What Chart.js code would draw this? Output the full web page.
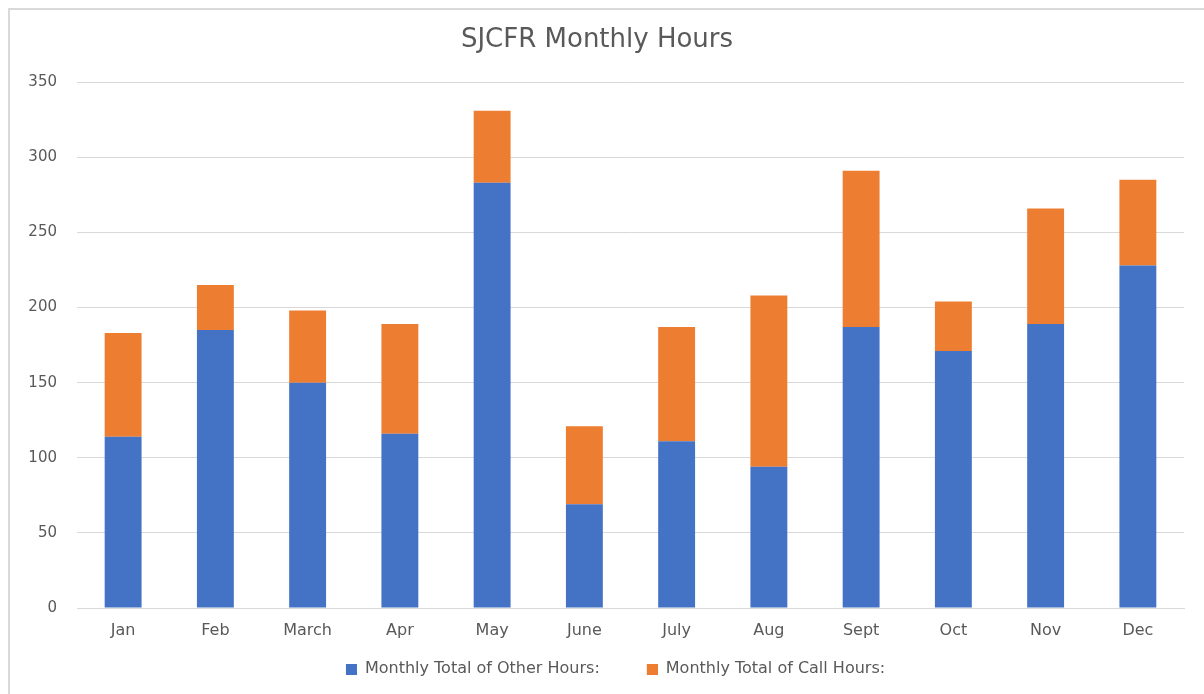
<!DOCTYPE html>
<html>
<head>
<meta charset="utf-8">
<script src="https://cdn.jsdelivr.net/npm/chart.js@4"></script>
<style>
  body { margin: 0; background: #fff; }
  #box {
    position: absolute; left: 8px; top: 8px;
    width: 1196px; height: 686px;
    border-left: 2px solid #d9d9d9; border-top: 2px solid #d9d9d9;
  }
</style>
</head>
<body>
<div id="box"><canvas id="hoursChart"></canvas></div>
<script>
const months = ["Jan", "Feb", "March", "Apr", "May", "June", "July", "Aug", "Sept", "Oct", "Nov", "Dec"];
const otherHours = [114, 185, 150, 116, 283, 69, 111, 94, 187, 171, 189, 228];
const callHours = [69, 30, 48, 73, 48, 52, 76, 114, 104, 33, 77, 57];
const yTicks = [0, 50, 100, 150, 200, 250, 300, 350];
const seriesNames = ["Monthly Total of Other Hours:", "Monthly Total of Call Hours:"];
const seriesColors = ["#4472C4", "#ED7D31"];

const textColor = "#595959";
const fontFamily = "'DejaVu Sans', sans-serif";

// legend square sits at the right end of a wider blank mark, so items get a gap
function legendMark(color) {
  const c = document.createElement("canvas");
  c.width = 48;
  c.height = 11;
  const ctx = c.getContext("2d");
  ctx.fillStyle = color;
  ctx.fillRect(37, 0, 11, 11);
  return c;
}
const marks = seriesColors.map(legendMark);

//data
const data = {
  labels: months,
  datasets: [
    { label: seriesNames[0], data: otherHours, backgroundColor: seriesColors[0] },
    { label: seriesNames[1], data: callHours, backgroundColor: seriesColors[1] },
  ],
};

//config
const config = {
  type: "bar",
  data: data,
  options: {
    responsive: true,
    maintainAspectRatio: false,
    animation: false,
    datasets: {
      bar: { barPercentage: 1, categoryPercentage: 0.4 },
    },
    layout: {
      padding: { left: 0, right: 22, top: 0, bottom: 9 },
    },
    plugins: {
      title: {
        display: true,
        text: "SJCFR Monthly Hours",
        color: textColor,
        font: { family: fontFamily, size: 26, weight: "normal" },
        padding: { top: 15, bottom: 26 },
      },
      legend: {
        position: "bottom",
        labels: {
          color: textColor,
          font: { family: fontFamily, size: 16 },
          usePointStyle: true,
          pointStyleWidth: 48,
          boxHeight: 11,
          padding: 10,
          generateLabels: (chart) =>
            chart.data.datasets.map((ds, i) => ({
              text: ds.label,
              fillStyle: ds.backgroundColor,
              strokeStyle: ds.backgroundColor,
              lineWidth: 0,
              pointStyle: marks[i],
              fontColor: textColor,
              hidden: false,
              datasetIndex: i,
            })),
        },
      },
      tooltip: { enabled: false },
    },
    scales: {
      x: {
        stacked: true,
        grid: { display: false },
        border: { color: "#d9d9d9", width: 1 },
        ticks: {
          color: textColor,
          font: { family: fontFamily, size: 16 },
          padding: 5,
        },
        afterFit: (axis) => {
          axis.height = 43;
        },
      },
      y: {
        stacked: true,
        min: 0,
        max: 350,
        afterBuildTicks: (axis) => {
          axis.ticks = yTicks.map((v) => ({ value: v }));
        },
        afterFit: (axis) => {
          axis.width = 67;
        },
        grid: { color: "#d9d9d9", drawTicks: false },
        border: { display: false },
        ticks: {
          color: textColor,
          font: { family: fontFamily, size: 15 },
          padding: 20,
        },
      },
    },
  },
};

new Chart(document.getElementById("hoursChart"), config);
</script>
</body>
</html>
